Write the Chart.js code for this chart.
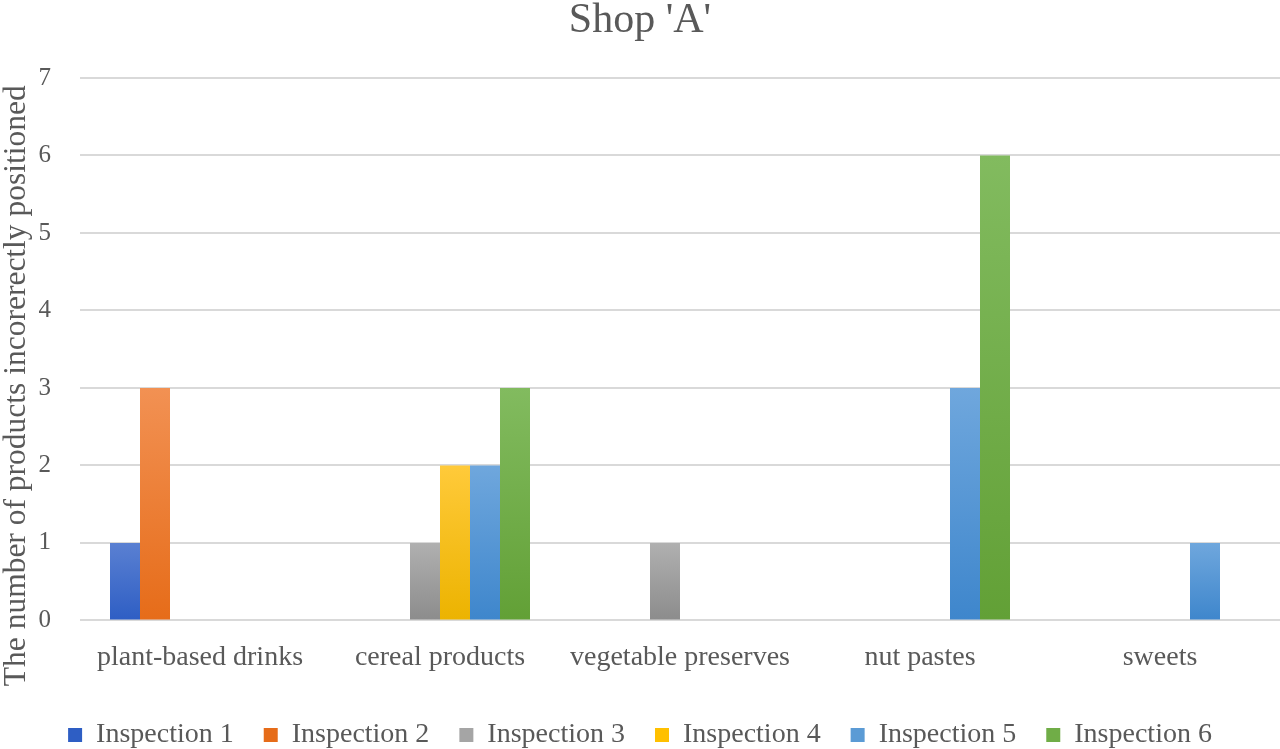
<!DOCTYPE html>
<html>
<head>
<meta charset="utf-8">
<script src="https://cdn.jsdelivr.net/npm/chart.js@4/dist/chart.umd.min.js"></script>
<style>
  html, body { margin: 0; padding: 0; background: #fff; }
  #wrap { width: 1280px; height: 749px; }
</style>
</head>
<body>
<div id="wrap"><canvas id="Grafica"></canvas></div>
<script>
// data
const categories = ['plant-based drinks', 'cereal products', 'vegetable preserves', 'nut pastes', 'sweets'];
const inspection1 = [1, 0, 0, 0, 0];
const inspection2 = [3, 0, 0, 0, 0];
const inspection3 = [0, 1, 1, 0, 0];
const inspection4 = [0, 2, 0, 0, 0];
const inspection5 = [0, 2, 0, 3, 1];
const inspection6 = [0, 3, 0, 6, 0];
const yTicks = [0, 1, 2, 3, 4, 5, 6, 7];
const yTitle = 'The number of products incorerectly positioned';

const serif = "'Liberation Serif', 'Times New Roman', serif";
const grey = '#595959';

// solid colour for legend, top/bottom for the bar gradient
const colours = [
    ['#4472c4', '#5a80d2', '#2e5ec4'],
    ['#ed7d31', '#f29153', '#e66c19'],
    ['#a5a5a5', '#b0b0b0', '#8c8c8c'],
    ['#ffc000', '#ffca3a', '#ecb300'],
    ['#5b9bd5', '#6fa7dd', '#3e86cc'],
    ['#70ad47', '#82bb5f', '#62a036']
];

function barFill(i) {
    return function(ctx) {
        const c = colours[i];
        if (ctx.type !== 'data' || !ctx.chart.chartArea) return c[0];
        const y = ctx.chart.scales.y;
        const top = y.getPixelForValue(ctx.raw);
        const bot = y.getPixelForValue(0);
        if (!isFinite(top) || top === bot) return c[0];
        const g = ctx.chart.ctx.createLinearGradient(0, top, 0, bot);
        g.addColorStop(0, c[1]);
        g.addColorStop(1, c[2]);
        return g;
    };
}

// y axis title, centred on the whole picture like the original
const yTitlePlugin = {
    id: 'yTitle',
    afterDraw: function(chart) {
        const c = chart.ctx;
        c.save();
        c.translate(17, chart.height * 0.515);
        c.rotate(-Math.PI / 2);
        c.fillStyle = grey;
        c.font = '31.5px ' + serif;
        c.textAlign = 'center';
        c.textBaseline = 'middle';
        c.fillText(yTitle, 0, 0);
        c.restore();
    }
};

const series = [inspection1, inspection2, inspection3, inspection4, inspection5, inspection6];

const ctx = document.getElementById('Grafica').getContext('2d');
const chart = new Chart(ctx, {
    type: 'bar',
    data: {
        labels: categories,
        datasets: series.map(function(vals, i) {
            return {
                label: 'Inspection ' + (i + 1),
                data: vals,
                backgroundColor: barFill(i),
                borderWidth: 0,
                categoryPercentage: 0.75,
                barPercentage: 1.0
            };
        })
    },
    plugins: [yTitlePlugin],
    options: {
        responsive: true,
        maintainAspectRatio: false,
        animation: false,
        layout: { padding: { left: 0, right: 0, top: 0, bottom: -10 } },
        plugins: {
            title: {
                display: true,
                text: "Shop 'A'",
                color: grey,
                font: { family: serif, size: 42, weight: 'normal', lineHeight: 1.0 },
                padding: { top: 0, bottom: 36 }
            },
            legend: {
                position: 'bottom',
                labels: {
                    color: grey,
                    font: { family: serif, size: 28 },
                    boxWidth: 14,
                    boxHeight: 14,
                    padding: 30
                }
            },
            tooltip: { enabled: false }
        },
        scales: {
            x: {
                grid: { display: false },
                border: { display: false },
                afterFit: function(axis) {
                    axis.paddingLeft = 0;
                    axis.paddingRight = 0;
                    axis.height += 5;
                },
                ticks: {
                    color: grey,
                    font: { family: serif, size: 28 },
                    padding: 12,
                    maxRotation: 0
                }
            },
            y: {
                min: 0,
                max: 7,
                afterBuildTicks: function(axis) {
                    axis.ticks = yTicks.map(function(v) { return { value: v }; });
                },
                afterFit: function(axis) {
                    axis.width = 80;
                },
                grid: { color: '#d9d9d9', lineWidth: 2, drawTicks: false },
                border: { display: false },
                ticks: {
                    color: grey,
                    font: { family: serif, size: 25 },
                    padding: 29
                }
            }
        }
    }
});
</script>
</body>
</html>
